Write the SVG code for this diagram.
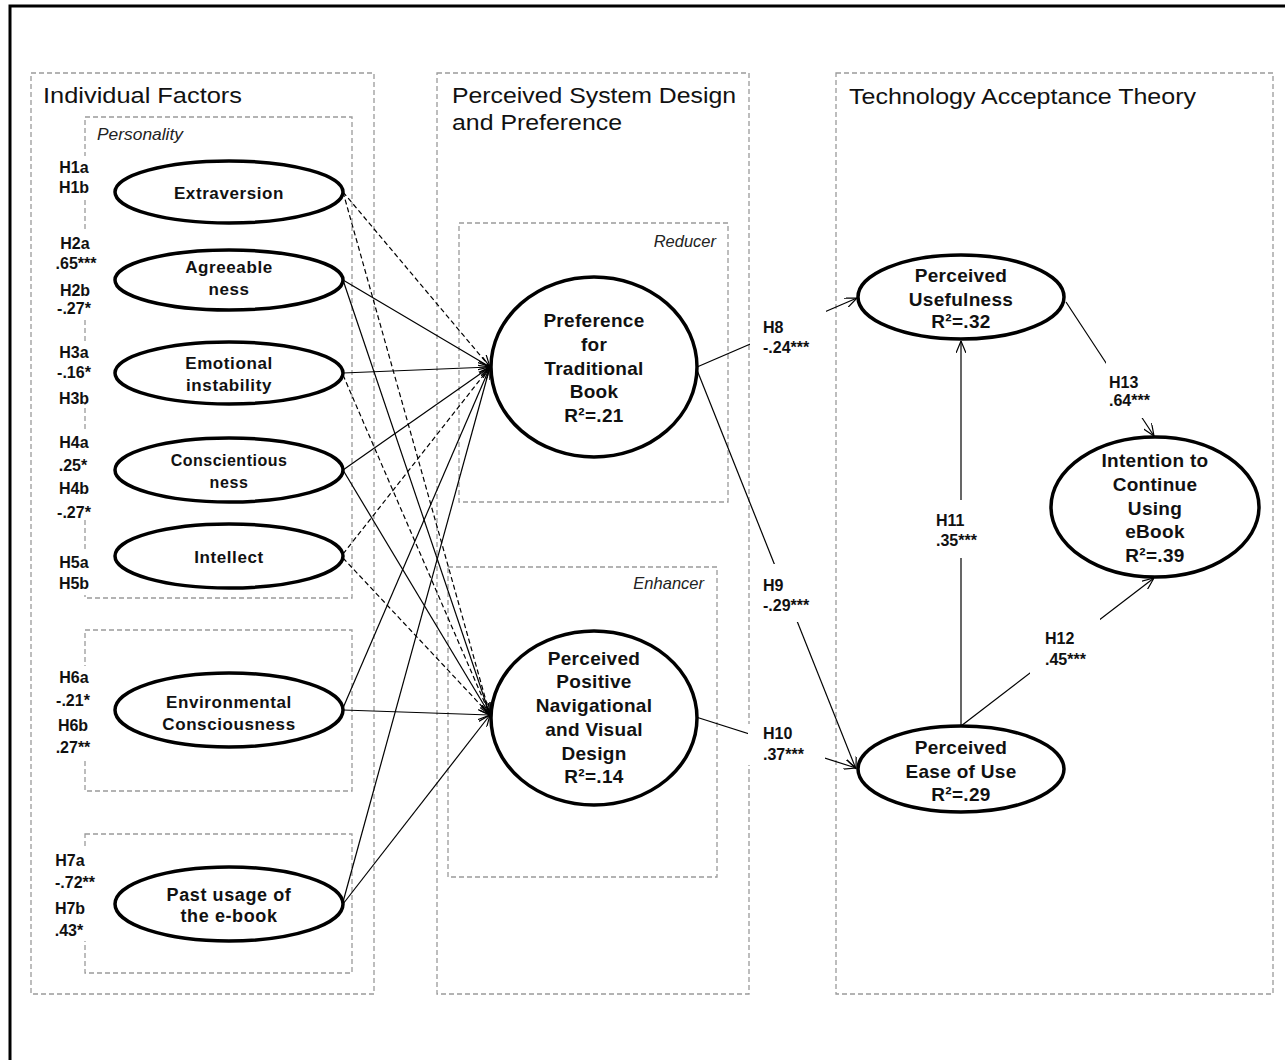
<svg xmlns="http://www.w3.org/2000/svg" width="1285" height="1060" viewBox="0 0 1285 1060">
<style>
.bg{fill:#fff}
.frame{stroke:#000;stroke-width:3;fill:none}
.box{fill:none;stroke:#9a9a9a;stroke-width:1.3;stroke-dasharray:5,3}
.title{font-family:"Liberation Sans",Arial,sans-serif;font-size:22px;fill:#111}
.ital{font-family:"Liberation Sans",Arial,sans-serif;font-size:16.5px;font-style:italic;fill:#222}
.node ellipse{fill:#fff;stroke:#000;stroke-width:3.5}
.node text{font-family:"Liberation Sans",Arial,sans-serif;font-weight:bold;font-size:17px;letter-spacing:0.6px;text-anchor:middle;fill:#111}
.node.big text{font-size:19px;letter-spacing:0.3px}
.lbl{font-family:"Liberation Sans",Arial,sans-serif;font-weight:bold;font-size:16px;fill:#111}
.lc{text-anchor:middle}
.c{stroke:#000;stroke-width:1.2;fill:none;marker-end:url(#arr)}
.d{stroke-dasharray:5,3}
.wr{fill:#fff;stroke:none}
</style>
<defs>
<marker id="arr" viewBox="0 0 12 10" refX="12" refY="5" markerWidth="12" markerHeight="10" markerUnits="userSpaceOnUse" orient="auto">
<path d="M0,0 L12,5 L0,10" fill="none" stroke="#000" stroke-width="1.2" stroke-dasharray="none"/>
</marker>
</defs>
<rect class="bg" x="0" y="0" width="1285" height="1060"/>
<path class="frame" d="M10,1060 L10,6 L1285,6"/>

<g id="panels">
<rect class="box" x="31" y="73" width="343" height="921"/>
<rect class="box" x="85" y="117" width="267" height="481"/>
<rect class="box" x="85" y="630" width="267" height="161"/>
<rect class="box" x="85" y="834" width="267" height="139"/>
<rect class="box" x="437" y="73" width="312" height="921"/>
<rect class="box" x="459" y="223" width="269" height="279"/>
<rect class="box" x="448" y="567" width="269" height="310"/>
<rect class="box" x="836" y="73" width="437" height="921"/>
<text class="title" x="43" y="103" textLength="199" lengthAdjust="spacingAndGlyphs">Individual Factors</text>
<text class="title" x="452" y="103" textLength="284" lengthAdjust="spacingAndGlyphs">Perceived System Design</text>
<text class="title" x="452" y="130" textLength="170" lengthAdjust="spacingAndGlyphs">and Preference</text>
<text class="title" x="849" y="104" textLength="347" lengthAdjust="spacingAndGlyphs">Technology Acceptance Theory</text>
<text class="ital" x="97" y="140" textLength="86" lengthAdjust="spacingAndGlyphs">Personality</text>
<text class="ital" x="716" y="247" text-anchor="end">Reducer</text>
<text class="ital" x="704" y="589" text-anchor="end">Enhancer</text>
</g>

<g id="connectors">
<line class="c d" x1="343" y1="192" x2="490" y2="367"/>
<line class="c d" x1="343" y1="192" x2="490" y2="715"/>
<line class="c" x1="343" y1="280" x2="490" y2="367"/>
<line class="c" x1="343" y1="280" x2="490" y2="715"/>
<line class="c" x1="343" y1="373" x2="490" y2="367"/>
<line class="c d" x1="343" y1="375" x2="490" y2="715"/>
<line class="c" x1="343" y1="470" x2="490" y2="367"/>
<line class="c" x1="343" y1="470" x2="490" y2="715"/>
<line class="c d" x1="343" y1="554" x2="490" y2="367"/>
<line class="c d" x1="343" y1="558" x2="490" y2="715"/>
<line class="c" x1="343" y1="708" x2="490" y2="367"/>
<line class="c" x1="343" y1="710" x2="490" y2="715"/>
<line class="c" x1="343" y1="902" x2="490" y2="367"/>
<line class="c" x1="343" y1="904" x2="490" y2="715"/>
<line class="c" x1="697" y1="367" x2="857" y2="298"/>
<line class="c" x1="697" y1="370" x2="856" y2="769"/>
<line class="c" x1="696" y1="717" x2="856" y2="768"/>
<line class="c" x1="961" y1="726" x2="961" y2="341"/>
<line class="c" x1="961" y1="726" x2="1154" y2="578"/>
<line class="c" x1="1066" y1="302" x2="1154" y2="436"/>
</g>

<g id="labels">
<rect class="wr" x="54" y="156" width="40" height="42"/>
<rect class="wr" x="52" y="232" width="48" height="87"/>
<rect class="wr" x="52" y="341" width="44" height="62"/>
<rect class="wr" x="52" y="431" width="44" height="86"/>
<rect class="wr" x="54" y="550" width="40" height="45"/>
<rect class="wr" x="52" y="666" width="44" height="92"/>
<rect class="wr" x="52" y="848" width="48" height="93"/>
<text class="lbl lc" x="74" y="173">H1a</text>
<text class="lbl lc" x="74" y="193">H1b</text>
<text class="lbl lc" x="75" y="249">H2a</text>
<text class="lbl lc" x="76" y="269">.65***</text>
<text class="lbl lc" x="75" y="296">H2b</text>
<text class="lbl lc" x="74" y="314">-.27*</text>
<text class="lbl lc" x="74" y="358">H3a</text>
<text class="lbl lc" x="74" y="378">-.16*</text>
<text class="lbl lc" x="74" y="404">H3b</text>
<text class="lbl lc" x="74" y="448">H4a</text>
<text class="lbl lc" x="73" y="471">.25*</text>
<text class="lbl lc" x="74" y="494">H4b</text>
<text class="lbl lc" x="74" y="518">-.27*</text>
<text class="lbl lc" x="74" y="568">H5a</text>
<text class="lbl lc" x="74" y="589">H5b</text>
<text class="lbl lc" x="74" y="683">H6a</text>
<text class="lbl lc" x="73" y="706">-.21*</text>
<text class="lbl lc" x="73" y="731">H6b</text>
<text class="lbl lc" x="73" y="753">.27**</text>
<text class="lbl lc" x="70" y="866">H7a</text>
<text class="lbl lc" x="75" y="888">-.72**</text>
<text class="lbl lc" x="70" y="914">H7b</text>
<text class="lbl lc" x="69" y="936">.43*</text>

<rect class="wr" x="750" y="310" width="76" height="48"/>
<rect class="wr" x="760" y="564" width="55" height="58"/>
<rect class="wr" x="748" y="724" width="77" height="41"/>
<rect class="wr" x="932" y="500" width="54" height="58"/>
<rect class="wr" x="1030" y="618" width="70" height="56"/>
<rect class="wr" x="1106" y="362" width="50" height="56"/>
<text class="lbl" x="763" y="333">H8</text>
<text class="lbl" x="763" y="353">-.24***</text>
<text class="lbl" x="763" y="591">H9</text>
<text class="lbl" x="763" y="611">-.29***</text>
<text class="lbl" x="763" y="739">H10</text>
<text class="lbl" x="763" y="760">.37***</text>
<text class="lbl" x="936" y="526">H11</text>
<text class="lbl" x="936" y="546">.35***</text>
<text class="lbl" x="1045" y="644">H12</text>
<text class="lbl" x="1045" y="665">.45***</text>
<text class="lbl" x="1109" y="388">H13</text>
<text class="lbl" x="1109" y="406">.64***</text>
</g>

<g id="n-extraversion" class="node"><ellipse cx="229" cy="192" rx="114" ry="31"/><text x="229" y="199">Extraversion</text></g>
<g id="n-agreeableness" class="node"><ellipse cx="229" cy="280" rx="114" ry="30"/><text x="229" y="273">Agreeable</text><text x="229" y="295">ness</text></g>
<g id="n-emotional" class="node"><ellipse cx="229" cy="373" rx="114" ry="31"/><text x="229" y="369">Emotional</text><text x="229" y="391">instability</text></g>
<g id="n-conscientious" class="node"><ellipse cx="229" cy="470" rx="114" ry="32"/><text x="229" y="466" style="font-size:16px;letter-spacing:0.5px">Conscientious</text><text x="229" y="488" style="font-size:16px">ness</text></g>
<g id="n-intellect" class="node"><ellipse cx="229" cy="556" rx="114" ry="32"/><text x="229" y="563">Intellect</text></g>
<g id="n-environmental" class="node"><ellipse cx="229" cy="710" rx="114" ry="37"/><text x="229" y="708">Environmental</text><text x="229" y="730">Consciousness</text></g>
<g id="n-pastusage" class="node"><ellipse cx="229" cy="904" rx="114" ry="37"/><text x="229" y="901" style="font-size:18px">Past usage of</text><text x="229" y="922" style="font-size:18px">the e-book</text></g>

<g id="n-preference" class="node big"><ellipse cx="594" cy="367" rx="103" ry="90"/>
<text x="594" y="327">Preference</text><text x="594" y="351">for</text><text x="594" y="375">Traditional</text><text x="594" y="398">Book</text><text x="594" y="422">R²=.21</text></g>
<g id="n-design" class="node big"><ellipse cx="594" cy="718" rx="103" ry="87"/>
<text x="594" y="665">Perceived</text><text x="594" y="688">Positive</text><text x="594" y="712">Navigational</text><text x="594" y="736">and Visual</text><text x="594" y="760">Design</text><text x="594" y="783">R²=.14</text></g>

<g id="n-usefulness" class="node big"><ellipse cx="961" cy="297" rx="103" ry="42"/>
<text x="961" y="282">Perceived</text><text x="961" y="306">Usefulness</text><text x="961" y="328">R²=.32</text></g>
<g id="n-intention" class="node big"><ellipse cx="1155" cy="507" rx="104" ry="70"/>
<text x="1155" y="467">Intention to</text><text x="1155" y="491">Continue</text><text x="1155" y="515">Using</text><text x="1155" y="538">eBook</text><text x="1155" y="562">R²=.39</text></g>
<g id="n-ease" class="node big"><ellipse cx="961" cy="769" rx="103" ry="43"/>
<text x="961" y="754">Perceived</text><text x="961" y="778">Ease of Use</text><text x="961" y="801">R²=.29</text></g>
</svg>
